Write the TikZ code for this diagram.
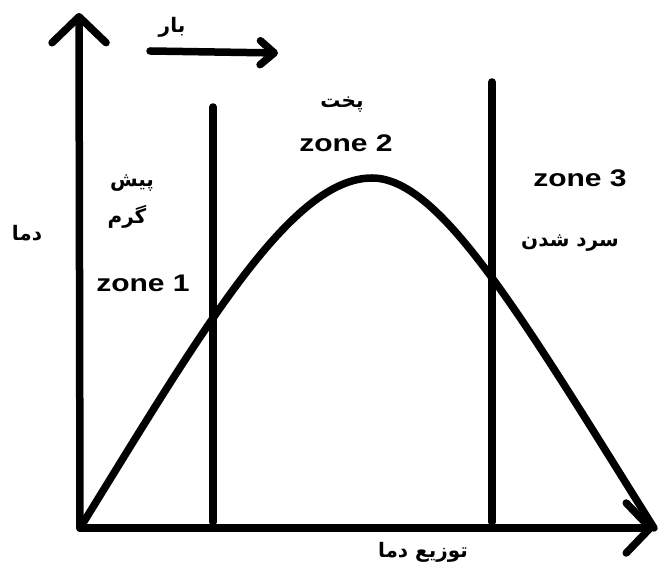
\documentclass[tikz,border=0pt]{standalone}
\usepackage{fontspec}
\TeXXeTstate=1
\newfontfamily\farsi[Script=Arabic]{DejaVu Sans}
\newfontfamily\zonefont[FakeStretch=1.25]{Liberation Sans}
\usetikzlibrary{arrows.meta}
\begin{document}
\begin{tikzpicture}[x=1pt,y=1pt,line width=7.5pt,line cap=round,
    zone/.style={inner sep=0pt,font=\zonefont\bfseries\fontsize{24}{28}\selectfont},
    fa/.style={inner sep=0pt,font=\farsi\bfseries\fontsize{20}{24}\selectfont}]
  \useasboundingbox (0,0) rectangle (660,569);
  % axes
  \coordinate (o) at (80,41);
  \coordinate (ytip) at (79,556);
  \coordinate (xtip) at (654,41);
  \draw[-{Straight Barb[length=26pt,width=54pt,round]}] (o)--(ytip);
  \draw[-{Straight Barb[length=24pt,width=50pt,round]}] (o)--(xtip);
  % zone borders
  \foreach \x/\t in {213/462,492/487}
    {\draw (\x,47)--(\x,\t);}
  % temperature curve
  \draw (o) .. controls (200,235) and (290,391) .. (372,391)
            .. controls (440,391) and (520,255) .. (xtip);
  % belt direction
  \coordinate (b0) at (150,518);
  \coordinate (b1) at (278,516);
  \draw[-{Straight Barb[length=14pt,width=24pt,round]}] (b0)--(b1);
  \node[fa] (bar) at (172,542) {\beginR بار\endR};
  % labels
  \node[fa] (dama) at (27,336) {\beginR دما\endR};
  \node[fa] (pish) at (132,386) {\beginR پیش\endR};
  \node[fa] (garm) at (127,352) {\beginR گرم\endR};
  \node[zone] (z1) at (143,286) {zone 1};
  \node[fa] (pokht) at (342,464) {\beginR پخت\endR};
  \node[zone] (z2) at (346,426) {zone 2};
  \node[zone] (z3) at (580,391) {zone 3};
  \node[fa] (sard) at (570,326) {\beginR سرد شدن\endR};
  \node[fa] (tozi) at (423,17) {\beginR توزیع دما\endR};
\end{tikzpicture}
\end{document}
